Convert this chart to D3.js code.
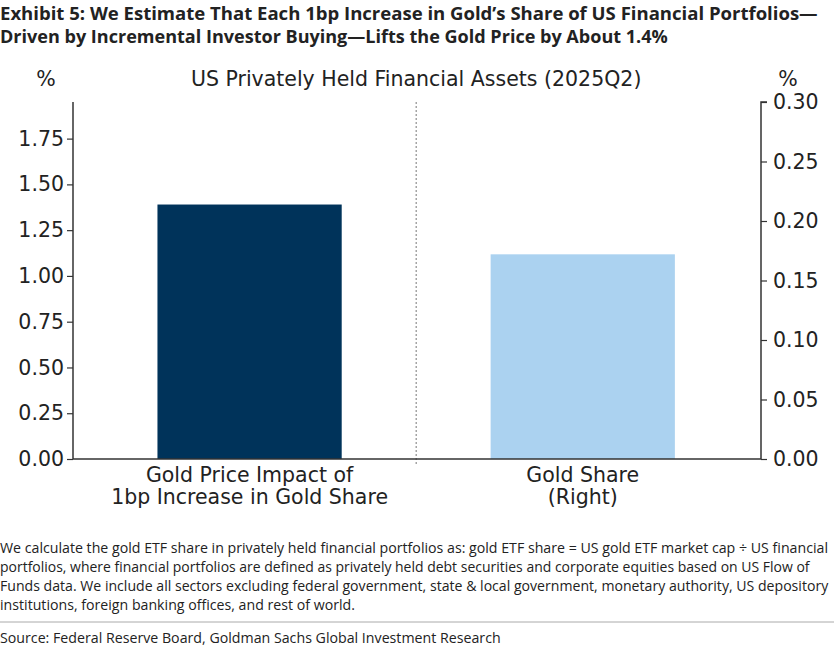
<!DOCTYPE html>
<html lang="en">
  <head>
    <meta charset="UTF-8" />
    <title>Gold share chart</title>
    <script src="https://cdn.jsdelivr.net/npm/d3@7"></script>
    <style>
      body { margin: 0; background: #fff; }
      svg text { fill: #222; }
      .tick text { font-family: "DejaVu Sans", sans-serif; font-size: 20.5px; fill: #222; }
      .mpl { font-family: "DejaVu Sans", sans-serif; font-size: 20.5px; }
      .head { font-family: "Open Sans", sans-serif; font-weight: 700; font-size: 18px; fill: #222; }
      .note { font-family: "Open Sans", sans-serif; font-size: 14.5px; fill: #222; }
    </style>
  </head>
  <body>
    <svg id="chart" width="834" height="646"></svg>
    <script>
      // data
      let categories = ["Gold Price Impact of\n1bp Increase in Gold Share", "Gold Share\n(Right)"];
      let values = [1.39, 0.172];
      let axisSide = ["left", "right"];
      let leftTicks = [0, 0.25, 0.5, 0.75, 1.0, 1.25, 1.5, 1.75];
      let rightTicks = [0, 0.05, 0.1, 0.15, 0.2, 0.25, 0.3];
      let barColors = ["#00335a", "#abd2f0"];

      let svg = d3.select("#chart");

      // original uses a condensed face: squeeze a normal one sideways to the same width
      function squeeze(sel, y, width) {
        let w = sel.node().getComputedTextLength();
        sel.attr("x", 0).attr("y", 0)
          .attr("transform", "translate(0," + y + ") scale(" + (width / w) + ",1)");
      }

      // heading
      let heading = [
        ["Exhibit 5: We Estimate That Each 1bp Increase in Gold\u2019s Share of US Financial Portfolios\u2014", 818],
        ["Driven by Incremental Investor Buying\u2014Lifts the Gold Price by About 1.4%", 668]
      ];
      heading.forEach((h, i) => {
        let t = svg.append("text").attr("class", "head").text(h[0]);
        squeeze(t, 20 + i * 23, h[1]);
      });

      // scales
      let x = d3.scaleLinear().domain([-0.53, 1.535]).range([73, 761]);
      let yL = d3.scaleLinear().domain([0, 1.95]).range([459, 102]);
      let yR = d3.scaleLinear().domain([0, 0.30]).range([459, 102]);
      let barW = 0.553;

      // bars
      svg.selectAll(".bar").data(values).enter()
        .append("rect").attr("class", "bar")
        .attr("x", (d, i) => x(i - barW / 2))
        .attr("width", x(barW) - x(0))
        .attr("y", (d, i) => (axisSide[i] == "left" ? yL(d) : yR(d)))
        .attr("height", (d, i) => 459 - (axisSide[i] == "left" ? yL(d) : yR(d)))
        .attr("fill", (d, i) => barColors[i]);

      // dashed divider
      svg.append("line")
        .attr("x1", x(0.5)).attr("x2", x(0.5))
        .attr("y1", 102).attr("y2", 465)
        .attr("stroke", "#555").attr("stroke-width", 0.8)
        .attr("stroke-dasharray", "2,2");

      // axes
      let leftAxis = svg.append("g").attr("transform", "translate(73,0)")
        .call(d3.axisLeft(yL).tickValues(leftTicks).tickFormat(d3.format(".2f")).tickSize(6).tickPadding(3));
      let rightAxis = svg.append("g").attr("transform", "translate(761,0)")
        .call(d3.axisRight(yR).tickValues(rightTicks).tickFormat(d3.format(".2f")).tickSize(6).tickPadding(6));
      [leftAxis, rightAxis].forEach(a => {
        a.attr("font-family", null).attr("font-size", null);
        a.select(".domain").attr("stroke", "#333").attr("stroke-width", 1.5)
          .attr("d", a === leftAxis ? "M0,102V459" : "M6,102H0V459");
        a.selectAll(".tick line").attr("stroke", "#333").attr("stroke-width", 1.2);
      });

      // bottom line
      svg.append("line").attr("x1", 73).attr("x2", 761).attr("y1", 459).attr("y2", 459)
        .attr("stroke", "#333").attr("stroke-width", 1.5);

      // category labels
      categories.forEach((c, i) => {
        let t = svg.append("text").attr("class", "mpl")
          .attr("text-anchor", "middle");
        c.split("\n").forEach((line, j) => {
          t.append("tspan").attr("x", x(i)).attr("y", 482 + j * 22).text(line);
        });
      });

      // titles
      svg.append("text").attr("class", "mpl").attr("x", x(0.5)).attr("y", 86).attr("text-anchor", "middle")
        .text("US Privately Held Financial Assets (2025Q2)");
      svg.append("text").attr("class", "mpl").attr("x", 46).attr("y", 86).attr("text-anchor", "middle").text("%");
      svg.append("text").attr("class", "mpl").attr("x", 788).attr("y", 86).attr("text-anchor", "middle").text("%");

      // footnote
      let notes = [
        ["We calculate the gold ETF share in privately held financial portfolios as: gold ETF share = US gold ETF market cap \u00f7 US financial", 829],
        ["portfolios, where financial portfolios are defined as privately held debt securities and corporate equities based on US Flow of", 810],
        ["Funds data. We include all sectors excluding federal government, state & local government, monetary authority, US depository", 829],
        ["institutions, foreign banking offices, and rest of world.", 355]
      ];
      notes.forEach((n, i) => {
        let t = svg.append("text").attr("class", "note").text(n[0]);
        squeeze(t, 553 + i * 19, n[1]);
      });

      svg.append("line").attr("x1", 0).attr("x2", 834).attr("y1", 622).attr("y2", 622)
        .attr("stroke", "#aaa").attr("stroke-width", 1);

      let src = svg.append("text").attr("class", "note")
        .text("Source: Federal Reserve Board, Goldman Sachs Global Investment Research");
      squeeze(src, 643, 501);
    </script>
  </body>
</html>
